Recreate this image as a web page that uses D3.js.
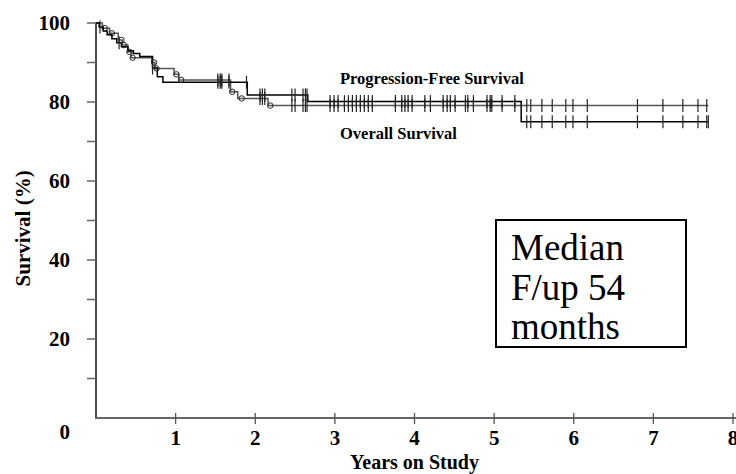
<!DOCTYPE html>
<html>
<head>
<meta charset="utf-8">
<script src="https://cdn.jsdelivr.net/npm/d3@7"></script>
<style>
  html, body { margin: 0; padding: 0; background: #fff; }
  svg { display: block; }
  text { font-family: "Liberation Serif", "Times New Roman", Times, serif; }
</style>
</head>
<body>
<div id="chart"></div>
<script>
// --- DATA ---

// curve with the open circles (ends at ~79%)
const pfsTimes = [0, 0.08, 0.17, 0.28, 0.33, 0.40, 0.44, 0.70, 0.74, 0.98, 1.04, 1.69, 1.78, 2.16];
const pfsSurv  = [100, 98.7, 97.4, 95.7, 94.4, 92.7, 91.2, 90.0, 88.5, 87.0, 85.6, 82.6, 80.9, 79.1];
const pfsCircles = [0.11, 0.20, 0.32, 0.35, 0.42, 0.46, 0.73, 0.76, 1.01, 1.07, 1.71, 1.83, 2.19];

// curve that drops at ~5.3 years (ends at ~75%)
const osTimes = [0, 0.04, 0.09, 0.14, 0.20, 0.26, 0.32, 0.40, 0.47, 0.55, 0.71, 0.77, 0.84, 1.90, 2.66, 5.34];
const osSurv  = [100, 99.0, 98.0, 97.0, 96.0, 95.0, 94.0, 93.0, 92.3, 91.5, 88.6, 86.4, 85.0, 81.8, 80.1, 75.0];
const osEarlyCensor = [0.05, 0.29, 0.71, 1.89, 7.69];

// censor ticks shared by both curves
const sharedCensor = [1.53, 1.56, 1.58, 1.67, 2.06, 2.09, 2.12, 2.46, 2.50, 2.60, 2.63, 2.65,
  2.94, 2.99, 3.04, 3.12, 3.17, 3.22, 3.27, 3.32, 3.37, 3.42, 3.47, 3.76, 3.84, 3.88, 3.92, 3.97,
  4.13, 4.20, 4.36, 4.41, 4.45, 4.51, 4.64, 4.67, 4.74, 4.91, 4.95, 4.97, 5.10, 5.26,
  5.41, 5.46, 5.60, 5.73, 5.90, 5.99, 6.17, 6.80, 7.12, 7.37, 7.56, 7.67];

const followUpEnd = 7.69;

const xTicks = [1, 2, 3, 4, 5, 6, 7, 8];
const yTicks = [10, 20, 30, 40, 50, 60, 70, 80, 90, 100];
const yLabels = [20, 40, 60, 80, 100];
const boxLines = ["Median", "F/up 54", "months"];

// --- CONFIG ---
const WIDTH = 736, HEIGHT = 474;

const svg = d3.select("#chart").append("svg")
  .attr("width", WIDTH).attr("height", HEIGHT);

const x = d3.scaleLinear().domain([0, 8]).range([96, 733]);
const y = d3.scaleLinear().domain([0, 100]).range([418, 23]);

// step lookup
const survAt = (times, surv, t) => {
  let s = surv[0];
  for (let i = 0; i < times.length; i++) if (times[i] <= t) s = surv[i];
  return s;
};

// --- AXES ---
// y axis
svg.append("line")
  .attr("x1", x(0)).attr("x2", x(0)).attr("y1", y(100)).attr("y2", y(0))
  .attr("stroke", "#111").attr("stroke-width", 1.5);

svg.selectAll("line.ytick").data(yTicks).join("line")
  .attr("class", "ytick")
  .attr("x1", x(0) - 9).attr("x2", x(0))
  .attr("y1", d => y(d)).attr("y2", d => y(d))
  .attr("stroke", "#666").attr("stroke-width", 1.5);

svg.selectAll("text.ylab").data(yLabels).join("text")
  .attr("class", "ylab")
  .attr("x", 70).attr("y", d => y(d))
  .attr("dy", "0.35em")
  .attr("text-anchor", "end")
  .style("font-size", "21px").style("font-weight", "bold")
  .text(d => d);

// origin label sits a little below the axis
svg.append("text")
  .attr("x", 70).attr("y", y(0) + 14).attr("dy", "0.35em")
  .attr("text-anchor", "end")
  .style("font-size", "21px").style("font-weight", "bold")
  .text("0");

// x axis
svg.append("line")
  .attr("x1", x(0) - 1).attr("x2", WIDTH).attr("y1", y(0)).attr("y2", y(0))
  .attr("stroke", "#666").attr("stroke-width", 2);

svg.selectAll("line.xtick").data(xTicks).join("line")
  .attr("class", "xtick")
  .attr("x1", d => x(d)).attr("x2", d => x(d))
  .attr("y1", y(0) - 5).attr("y2", y(0) + 6)
  .attr("stroke", "#555").attr("stroke-width", 1.3);

svg.selectAll("text.xlab").data(xTicks).join("text")
  .attr("class", "xlab")
  .attr("x", d => x(d)).attr("y", 445)
  .attr("text-anchor", "middle")
  .style("font-size", "21px").style("font-weight", "bold")
  .text(d => d);

svg.append("text")
  .attr("x", x(4)).attr("y", 469)
  .attr("text-anchor", "middle")
  .style("font-size", "20px").style("font-weight", "bold")
  .text("Years on Study");

svg.append("text")
  .attr("transform", `translate(30, ${y(48)}) rotate(-90)`)
  .attr("text-anchor", "middle")
  .style("font-size", "21px").style("font-weight", "bold")
  .text("Survival (%)");

// --- CURVES ---
const stepLine = d3.line()
  .x(d => x(d[0])).y(d => y(d[1]))
  .curve(d3.curveStepAfter);

function curvePoints(times, surv) {
  const pts = times.map((t, i) => [t, surv[i]]);
  pts.push([followUpEnd, surv[surv.length - 1]]);
  return pts;
}

svg.append("path")
  .attr("d", stepLine(curvePoints(pfsTimes, pfsSurv)))
  .attr("fill", "none").attr("stroke", "#555").attr("stroke-width", 1.5);

svg.append("path")
  .attr("d", stepLine(curvePoints(osTimes, osSurv)))
  .attr("fill", "none").attr("stroke", "#000").attr("stroke-width", 1.5);

// censor ticks
const pfsTicks = sharedCensor.map(t => [t, survAt(pfsTimes, pfsSurv, t)]);
const osTicks = sharedCensor.concat(osEarlyCensor).map(t => [t, survAt(osTimes, osSurv, t)]);

svg.selectAll("line.censor").data(pfsTicks.concat(osTicks)).join("line")
  .attr("class", "censor")
  .attr("x1", d => x(d[0])).attr("x2", d => x(d[0]))
  .attr("y1", d => y(d[1]) - 6.5).attr("y2", d => y(d[1]) + 6.5)
  .attr("stroke", "#222").attr("stroke-width", 1.2);

// open circles
svg.selectAll("circle.mark").data(pfsCircles).join("circle")
  .attr("class", "mark")
  .attr("cx", d => x(d)).attr("cy", d => y(survAt(pfsTimes, pfsSurv, d)))
  .attr("r", 2.7)
  .attr("fill", "none").attr("stroke", "#222").attr("stroke-width", 1);

// curve labels
svg.append("text")
  .attr("x", 340).attr("y", 84)
  .style("font-size", "16.5px").style("font-weight", "bold")
  .text("Progression-Free Survival");

svg.append("text")
  .attr("x", 340).attr("y", 139)
  .style("font-size", "16.5px").style("font-weight", "bold")
  .text("Overall Survival");

// --- ANNOTATION BOX ---
svg.append("rect")
  .attr("x", 496).attr("y", 220).attr("width", 190).attr("height", 127)
  .attr("fill", "none").attr("stroke", "#000").attr("stroke-width", 2);

svg.selectAll("text.box").data(boxLines).join("text")
  .attr("class", "box")
  .attr("x", 511).attr("y", (d, i) => 260 + i * 39.5)
  .style("font-size", "37px")
  .text(d => d);
</script>
</body>
</html>
